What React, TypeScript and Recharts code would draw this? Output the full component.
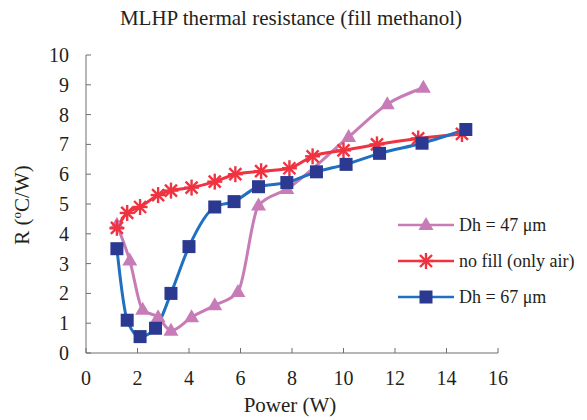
import React from 'react';
import { LineChart, Line, XAxis, YAxis } from 'recharts';

// Dh = 47 um (pink triangles)
const dh47Power = [1.2, 1.7, 2.2, 2.8, 3.3, 4.1, 5.0, 5.9, 6.7, 7.8, 10.2, 11.7, 13.1];
const dh47R = [4.3, 3.1, 1.45, 1.2, 0.75, 1.2, 1.6, 2.05, 4.95, 5.5, 7.25, 8.35, 8.9];

// no fill (only air) (red stars)
const airPower = [1.2, 1.6, 2.1, 2.8, 3.3, 4.1, 5.0, 5.8, 6.8, 7.9, 8.8, 10.0, 11.3, 12.9, 14.6];
const airR = [4.2, 4.7, 4.9, 5.3, 5.45, 5.55, 5.75, 6.0, 6.1, 6.2, 6.6, 6.8, 7.0, 7.2, 7.35];

// Dh = 67 um (blue squares)
const dh67Power = [1.2, 1.6, 2.1, 2.7, 3.3, 4.0, 5.0, 5.75, 6.7, 7.8, 8.95, 10.1, 11.4, 13.05, 14.75];
const dh67R = [3.5, 1.1, 0.55, 0.83, 2.0, 3.57, 4.9, 5.08, 5.58, 5.72, 6.08, 6.33, 6.7, 7.04, 7.5];

const xTicks = [0, 2, 4, 6, 8, 10, 12, 14, 16];
const yTicks = [0, 1, 2, 3, 4, 5, 6, 7, 8, 9, 10];

const PINK = '#c77cb7';
const RED = '#ef3340';
const BLUE_LINE = '#1f70c1';
const BLUE_MARK = '#2b3990';
const FONT = '"Liberation Serif", "DejaVu Serif", "Times New Roman", Times, serif';
const TEXT = '#231f20';

const toPoints = (xs: number[], ys: number[]) => xs.map((x, i) => ({ power: x, r: ys[i] }));

const Triangle = ({ cx, cy }: any) => (
  <polygon points={`${cx},${cy - 8} ${cx - 7.5},${cy + 5} ${cx + 7.5},${cy + 5}`} fill={PINK} />
);

const Star = ({ cx, cy, color = RED }: any) => (
  <g stroke={color} strokeWidth={2.4}>
    <line x1={cx} y1={cy - 8} x2={cx} y2={cy + 8} />
    <line x1={cx - 7.5} y1={cy} x2={cx + 7.5} y2={cy} />
    <line x1={cx - 6} y1={cy - 6} x2={cx + 6} y2={cy + 6} />
    <line x1={cx - 6} y1={cy + 6} x2={cx + 6} y2={cy - 6} />
  </g>
);

const Square = ({ cx, cy }: any) => (
  <rect x={cx - 6.5} y={cy - 6.5} width={13} height={13} fill={BLUE_MARK} />
);

const legendItems = [
  { label: 'Dh = 47 μm', color: PINK, Mark: Triangle },
  { label: 'no fill (only air)', color: RED, Mark: Star },
  { label: 'Dh = 67 μm', color: BLUE_LINE, Mark: Square },
];

const XTick = ({ x, y, payload }: any) => (
  <text x={x} y={y} dy="0.71em" textAnchor="middle" style={{ fontFamily: FONT }} fontSize={20} fill={TEXT}>
    {payload.value}
  </text>
);

const YTick = ({ x, y, payload }: any) => (
  <text x={x} y={y} dy="0.35em" textAnchor="end" style={{ fontFamily: FONT }} fontSize={20} fill={TEXT}>
    {payload.value}
  </text>
);

export default function App() {
  return (
    <div style={{ position: 'absolute', left: 0, top: 0, width: 587, height: 420, background: '#fff', fontFamily: FONT, color: TEXT }}>
      <div style={{ position: 'absolute', left: 0, top: 6, width: 582, textAlign: 'center', fontSize: 21 }}>
        MLHP thermal resistance (fill methanol)
      </div>
      <div style={{ position: 'absolute', left: 0, top: 393, width: 580, textAlign: 'center', fontSize: 21 }}>
        Power (W)
      </div>
      <div
        style={{
          position: 'absolute', left: 22, top: 205, transform: 'translate(-50%, -50%) rotate(-90deg)',
          whiteSpace: 'nowrap', fontSize: 21,
        }}
      >
        R (<sup style={{ fontSize: 13 }}>o</sup>C/W)
      </div>
      <LineChart
        width={587}
        height={420}
        margin={{ top: 55, right: 89, left: 0, bottom: 0 }}
        style={{ position: 'absolute', left: 0, top: 0, fontFamily: FONT }}
      >
        <XAxis
          type="number"
          dataKey="power"
          domain={[0, 16]}
          ticks={xTicks}
          interval={0}
          height={67}
          tickSize={-5}
          tickMargin={23}
          tick={<XTick />}
          stroke="#6d6e71"
          allowDataOverflow
        />
        <YAxis
          type="number"
          dataKey="r"
          domain={[0, 10]}
          ticks={yTicks}
          interval={0}
          width={86}
          tickSize={-5}
          tickMargin={22}
          tick={<YTick />}
          stroke="#6d6e71"
        />
        <Line
          data={toPoints(dh47Power, dh47R)}
          dataKey="r"
          type="monotone"
          stroke={PINK}
          strokeWidth={3}
          dot={(p: any) => <Triangle key={`t-${p.index}`} cx={p.cx} cy={p.cy} />}
          isAnimationActive={false}
        />
        <Line
          data={toPoints(airPower, airR)}
          dataKey="r"
          type="monotone"
          stroke={RED}
          strokeWidth={3}
          dot={(p: any) => <Star key={`s-${p.index}`} cx={p.cx} cy={p.cy} />}
          isAnimationActive={false}
        />
        <Line
          data={toPoints(dh67Power, dh67R)}
          dataKey="r"
          type="monotone"
          stroke={BLUE_LINE}
          strokeWidth={3}
          dot={(p: any) => <Square key={`q-${p.index}`} cx={p.cx} cy={p.cy} />}
          isAnimationActive={false}
        />
      </LineChart>
      <div style={{ position: 'absolute', left: 396, top: 207, fontSize: 18 }}>
        {legendItems.map((it) => (
          <div key={it.label} style={{ display: 'flex', alignItems: 'center', height: 36 }}>
            <svg width={60} height={24}>
              <line x1={2} y1={12} x2={58} y2={12} stroke={it.color} strokeWidth={2.5} />
              <it.Mark cx={30} cy={12} />
            </svg>
            <span style={{ marginLeft: 3, whiteSpace: 'nowrap' }}>{it.label}</span>
          </div>
        ))}
      </div>
    </div>
  );
}
